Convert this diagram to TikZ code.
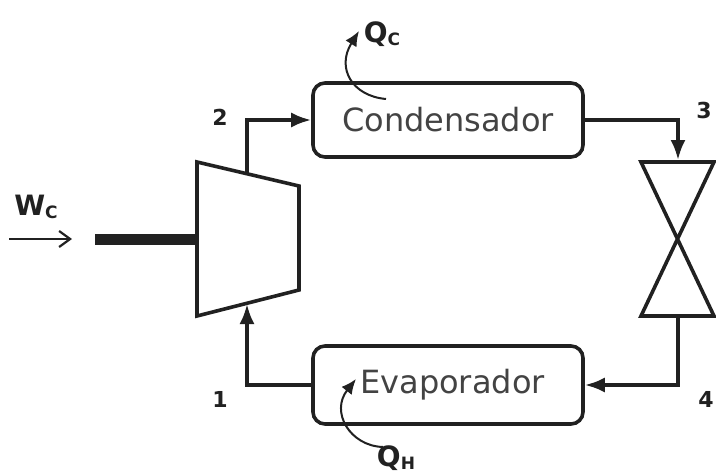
\documentclass[tikz,border=0pt]{standalone}
\usepackage{fontspec}
\setmainfont{DejaVu Sans}
\usetikzlibrary{arrows.meta}
\definecolor{ink}{gray}{0.13}
\newcommand{\subC}[1]{\raisebox{-3pt}{\fontsize{17}{17}\selectfont\bfseries #1}}
\begin{document}
\begin{tikzpicture}[x=1pt,y=-1pt,
  box/.style={draw=ink,line width=3.6pt,rounded corners=12pt,minimum width=270pt,inner sep=0pt,font=\fontsize{32}{32}\selectfont,text=ink!85},
  flow/.style={draw=ink,line width=3.4pt,-{Latex[length=20pt,width=15pt]}},
  thinarrow/.style={draw=ink,line width=2pt,-{Latex[length=15pt,width=13pt]}},
  lab/.style={font=\bfseries\fontsize{22}{22}\selectfont,text=ink,inner sep=0pt},
  qlab/.style={font=\bfseries\fontsize{28}{28}\selectfont,text=ink,inner sep=0pt}]
\useasboundingbox (0,0) rectangle (716,474);
\node[box,minimum height=74pt] (cond) at (448,120) {Condensador};
\node[box,minimum height=78pt] (evap) at (448,385) {\hspace*{9pt}Evaporador};
\coordinate (c1) at (197,162); \coordinate (c2) at (299,186);
\coordinate (c3) at (299,290); \coordinate (c4) at (197,316);
\draw[draw=ink,line width=3.6pt,line join=miter] (c1)--(c2)--(c3)--(c4)--cycle;
\coordinate (v1) at (641,162); \coordinate (v2) at (714,162);
\coordinate (v3) at (641,316); \coordinate (v4) at (714,316);
\draw[draw=ink,line width=3.6pt] (v1)--(v2)--(v3)--(v4)--cycle;
\coordinate (comp2) at (247,175); \coordinate (comp1) at (247,304);
\coordinate (valveT) at (678,160); \coordinate (valveB) at (678,316);
\draw[flow] (comp2) |- (cond.west);
\draw[flow] (cond.east) -| (valveT);
\draw[flow] (valveB) |- (evap.east);
\draw[flow] (evap.west) -| (comp1);
\coordinate (shaftL) at (95,239); \coordinate (shaftR) at (197,239);
\draw[draw=ink,line width=11pt] (shaftL)--(shaftR);
\coordinate (wa) at (9,239); \coordinate (wb) at (72,239);
\draw[draw=ink,line width=2.2pt,-{Straight Barb[length=11pt,width=16pt]}] (wa)--(wb);
\coordinate (qc0) at (386,99); \coordinate (qc1) at (359,31);
\draw[thinarrow] (qc0) .. controls (352,96) and (336,68) .. (qc1);
\coordinate (qh0) at (383,447); \coordinate (qh1) at (356,379);
\draw[thinarrow] (qh0) .. controls (350,446) and (330,412) .. (qh1);
\node[lab] at (220,117) {2};
\node[lab] at (704,110) {3};
\node[lab] at (220,399) {1};
\node[lab] at (706,399) {4};
\node[qlab] at (382,34) {Q\subC{C}};
\node[qlab] at (396,458) {Q\subC{H}};
\node[qlab] at (36,207) {W\subC{C}};
\end{tikzpicture}
\end{document}
